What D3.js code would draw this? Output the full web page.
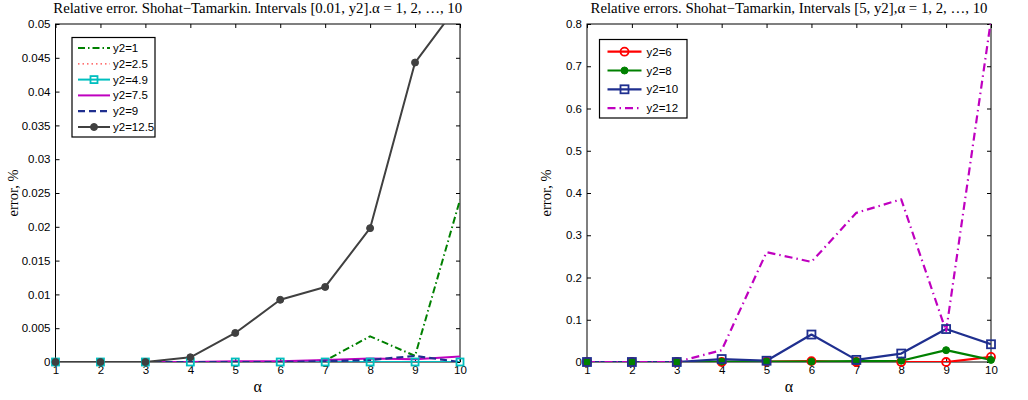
<!DOCTYPE html>
<html><head><meta charset="utf-8">
<script src="https://cdn.jsdelivr.net/npm/d3@7"></script>
<style>body{margin:0;background:#fff}svg{display:block}</style>
</head><body>
<svg id="c" width="1028" height="400"></svg>
<script>
const alpha = [1,2,3,4,5,6,7,8,9,10];

// Left panel: intervals [0.01, y2]
const leftTitle = "Relative error. Shohat\u2212Tamarkin. Intervals [0.01, y2].\u03b1 = 1, 2, \u2026, 10";
const leftYTicks = [0,0.005,0.01,0.015,0.02,0.025,0.03,0.035,0.04,0.045,0.05];
const L_y2_1    = [0,0,0,0,0,0,0.0002,0.0038,0.0009,0.024];
const L_y2_2_5  = [0,0,0,0,0,0,0,0,0,0];
const L_y2_4_9  = [0,0,0,0,0,0,0,0,0,0];
const L_y2_7_5  = [0,0,0,0,0.0001,0.0001,0.0003,0.0005,0.0004,0.0008];
const L_y2_9    = [0,0,0,0,0,0,0.0001,0.0003,0.0009,0];
const L_y2_12_5 = [0,0,0,0.0007,0.0043,0.0092,0.0111,0.0198,0.0443,0.0532];

// Right panel: intervals [5, y2]
const rightTitle = "Relative errors. Shohat\u2212Tamarkin, Intervals [5, y2],\u03b1 = 1, 2, \u2026, 10";
const rightYTicks = [0,0.1,0.2,0.3,0.4,0.5,0.6,0.7,0.8];
const R_y2_6  = [0,0,0,0,0.001,0.002,0,0,0,0.012];
const R_y2_8  = [0,0,0,0.001,0.001,0.001,0.002,0.003,0.028,0.005];
const R_y2_10 = [0,0,0,0.007,0.003,0.065,0.005,0.02,0.078,0.042];
const R_y2_12 = [0,0,0,0.028,0.26,0.237,0.353,0.385,0.073,0.81];

const svg = d3.select("#c");
const SANS = "'Liberation Sans', Arial, sans-serif";
const SERIF = "'Liberation Serif', 'Times New Roman', serif";

function panel(o){
  const g = svg.append("g");
  const x = d3.scaleLinear().domain([1,10]).range([o.x0,o.x1]);
  const y = d3.scaleLinear().domain([0,o.ymax]).range([o.y1,o.y0]);
  const clipId = "clip"+o.id;
  svg.append("clipPath").attr("id",clipId).append("rect")
    .attr("x",o.x0).attr("y",o.y0).attr("width",o.x1-o.x0).attr("height",o.y1-o.y0);

  // axes (ticks inward)
  const ax = g.append("g").attr("transform",`translate(0,${o.y1})`)
    .call(d3.axisBottom(x).tickValues(alpha).tickSize(-4).tickPadding(6).tickFormat(d3.format("d")));
  const axT = g.append("g").attr("transform",`translate(0,${o.y0})`)
    .call(d3.axisTop(x).tickValues(alpha).tickSize(-4).tickFormat(""));
  const ay = g.append("g").attr("transform",`translate(${o.x0},0)`)
    .call(d3.axisLeft(y).tickValues(o.yticks).tickSize(-4).tickPadding(5).tickFormat(d=>String(+d.toFixed(4))));
  const ayR = g.append("g").attr("transform",`translate(${o.x1},0)`)
    .call(d3.axisRight(y).tickValues(o.yticks).tickSize(-4).tickFormat(""));
  [ax,axT,ay,ayR].forEach(a=>{
    a.select(".domain").remove();
    a.selectAll("line").attr("stroke","#000");
    a.selectAll("text").attr("font-family",SANS).attr("font-size",11.5).attr("fill","#000");
  });
  ax.selectAll("text").attr("dy","0.55em");

  // box
  g.append("rect").attr("x",o.x0).attr("y",o.y0).attr("width",o.x1-o.x0).attr("height",o.y1-o.y0)
    .attr("fill","none").attr("stroke","#000").attr("stroke-width",1);

  // series: lines clipped, markers unclipped (only for points inside range)
  const line = d3.line().x((d,i)=>x(alpha[i])).y(d=>y(d));
  const sg = g.append("g").attr("clip-path",`url(#${clipId})`);
  const mg = g.append("g");
  o.series.forEach(s=>{
    sg.append("path").attr("d",line(s.data)).attr("fill","none")
      .attr("stroke",s.color).attr("stroke-width",s.w).attr("stroke-dasharray",s.dash||null)
      .attr("stroke-linejoin","round");
    const pts = s.data.map((d,i)=>({d, p:[x(alpha[i]),y(d)]})).filter(q=>q.d<=o.ymax).map(q=>q.p);
    drawMarkers(mg, s, pts);
  });

  // title & labels
  g.append("text").attr("x",(o.x0+o.x1)/2).attr("y",13).attr("text-anchor","middle")
    .attr("font-family",SERIF).attr("font-size",14.8).text(o.title);
  g.append("text").attr("x",(o.x0+o.x1)/2).attr("y",392).attr("text-anchor","middle")
    .attr("font-family",SERIF).attr("font-size",16).text("\u03b1");
  g.append("text").attr("transform",`translate(${o.ylabX},${(o.y0+o.y1)/2}) rotate(-90)`)
    .attr("text-anchor","middle").attr("font-family",SERIF).attr("font-size",14.5).text("error, %");

  // legend
  const lg = g.append("g");
  lg.append("rect").attr("x",o.leg.x).attr("y",o.leg.y).attr("width",o.leg.w).attr("height",o.leg.h)
    .attr("fill","#fff").attr("stroke","#000").attr("stroke-width",1.2);
  o.series.forEach((s,i)=>{
    const cy = o.leg.y + o.leg.first + i*o.leg.step;
    const lx0 = o.leg.x + o.leg.lx0, lx1 = o.leg.x + o.leg.lx1;
    lg.append("line").attr("x1",lx0).attr("x2",lx1).attr("y1",cy).attr("y2",cy)
      .attr("stroke",s.color).attr("stroke-width",s.w).attr("stroke-dasharray",s.dash||null);
    drawMarkers(lg, s, [[(lx0+lx1)/2, cy]]);
    lg.append("text").attr("x",o.leg.x+o.leg.tx).attr("y",cy).attr("dy","0.35em")
      .attr("font-family",SANS).attr("font-size",11.5).text(s.name);
  });
}

function drawMarkers(g, s, pts){
  if(!s.marker) return;
  pts.forEach(([px,py])=>{
    if(s.marker==="square"){
      g.append("rect").attr("x",px-s.ms/2).attr("y",py-s.ms/2).attr("width",s.ms).attr("height",s.ms)
        .attr("fill","none").attr("stroke",s.color).attr("stroke-width",1.8);
    } else if(s.marker==="circle"){
      g.append("circle").attr("cx",px).attr("cy",py).attr("r",s.ms/2)
        .attr("fill","none").attr("stroke",s.color).attr("stroke-width",1.8);
    } else if(s.marker==="dot"){
      g.append("circle").attr("cx",px).attr("cy",py).attr("r",s.ms/2)
        .attr("fill",s.color).attr("stroke",s.color).attr("stroke-width",1);
    }
  });
}

panel({
  id:"L", x0:55.5, x1:460, y0:24, y1:362, ymax:0.05, yticks:leftYTicks, title:leftTitle, ylabX:18,
  leg:{x:72, y:37.5, w:83, h:99.5, first:10.5, step:15.8, lx0:6, lx1:38, tx:41},
  series:[
    {name:"y2=1",    data:L_y2_1,    color:"#008000", w:2,   dash:"7,3,1.5,3"},
    {name:"y2=2.5",  data:L_y2_2_5,  color:"#ff4040", w:1.2, dash:"1.5,3"},
    {name:"y2=4.9",  data:L_y2_4_9,  color:"#00bfbf", w:2,   marker:"square", ms:7},
    {name:"y2=7.5",  data:L_y2_7_5,  color:"#bf00bf", w:2},
    {name:"y2=9",    data:L_y2_9,    color:"#1f2f8f", w:2.2, dash:"7,4"},
    {name:"y2=12.5", data:L_y2_12_5, color:"#404040", w:2,   marker:"dot", ms:7}
  ]
});

panel({
  id:"R", x0:587, x1:991, y0:24, y1:362, ymax:0.8, yticks:rightYTicks, title:rightTitle, ylabX:551,
  leg:{x:599.5, y:39.5, w:87.5, h:78.5, first:12.2, step:18.8, lx0:8, lx1:42, tx:47},
  series:[
    {name:"y2=6",  data:R_y2_6,  color:"#ff0000", w:2.2, marker:"circle", ms:8},
    {name:"y2=8",  data:R_y2_8,  color:"#008000", w:2.2, marker:"dot", ms:7},
    {name:"y2=10", data:R_y2_10, color:"#1f2f8f", w:2.2, marker:"square", ms:8},
    {name:"y2=12", data:R_y2_12, color:"#bf00bf", w:2.2, dash:"8,4,1.5,4"}
  ]
});
</script>
</body></html>
